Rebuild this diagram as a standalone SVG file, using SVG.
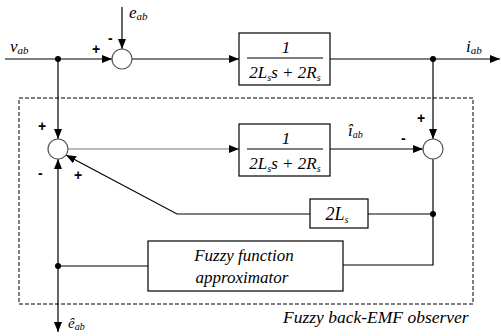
<svg xmlns="http://www.w3.org/2000/svg" width="501" height="336" viewBox="0 0 501 336">
<defs>
<marker id="ah" viewBox="0 0 10 10" refX="10" refY="5" markerWidth="10" markerHeight="10" markerUnits="userSpaceOnUse" orient="auto">
<path d="M0,1 L10,5 L0,9 Z" fill="#000"/>
</marker>
</defs>
<style>
.l{stroke:#000;stroke-width:1.2;fill:none}
.b{stroke:#000;stroke-width:1.2;fill:#fff}
.c{stroke:#555;stroke-width:1.2;fill:#fff}
.d{stroke:#000;stroke-width:1;fill:none;stroke-dasharray:4,2}
</style>
<rect class="d" x="19" y="98" width="454" height="206"/>
<g id="connectors">
<line class="l" x1="5" y1="59" x2="112" y2="59" marker-end="url(#ah)"/>
<line class="l" x1="122" y1="7" x2="122" y2="49" marker-end="url(#ah)"/>
<line class="l" x1="132" y1="59" x2="239" y2="59" marker-end="url(#ah)"/>
<line class="l" x1="330" y1="59" x2="500" y2="59" marker-end="url(#ah)"/>
<line class="l" x1="58" y1="59" x2="58" y2="139" marker-end="url(#ah)"/>
<line class="l" x1="433" y1="59" x2="433" y2="139" marker-end="url(#ah)"/>
<line class="l" x1="68" y1="149" x2="239" y2="149" style="stroke:#777" marker-end="url(#ah)"/>
<line class="l" x1="330" y1="149" x2="423" y2="149" marker-end="url(#ah)"/>
<polyline class="l" points="433,159 433,265 343,265"/>
<line class="l" x1="433" y1="214" x2="368" y2="214"/>
<polyline class="l" points="310,214 177,214 66,155" marker-end="url(#ah)"/>
<line class="l" x1="148" y1="266" x2="58" y2="266"/>
<line class="l" x1="58" y1="266" x2="58" y2="159" marker-end="url(#ah)"/>
<line class="l" x1="58" y1="266" x2="58" y2="332" marker-end="url(#ah)"/>
<circle cx="58" cy="59" r="3" fill="#000"/>
<circle cx="433" cy="59" r="3" fill="#000"/>
<circle cx="433" cy="214" r="3" fill="#000"/>
<circle cx="58" cy="266" r="3" fill="#000"/>
</g>
<g id="sum1" font-family="Liberation Sans, sans-serif" font-size="14" font-weight="bold"><circle class="c" cx="122" cy="59" r="10"/>
<text x="92" y="54">+</text><text x="108" y="43">-</text></g>
<g id="sum2" font-family="Liberation Sans, sans-serif" font-size="14" font-weight="bold"><circle class="c" cx="58" cy="149" r="10"/>
<text x="38" y="131">+</text><text x="38" y="178">-</text><text x="74" y="180">+</text></g>
<g id="sum3" font-family="Liberation Sans, sans-serif" font-size="14" font-weight="bold"><circle class="c" cx="433" cy="149" r="10"/>
<text x="417" y="123">+</text><text x="401" y="143">-</text></g>
<g id="block1" font-family="Liberation Serif, serif" font-style="italic"><rect class="b" x="239" y="33" width="91" height="52"/>
<text x="286" y="53" font-size="17" text-anchor="middle">1</text>
<line class="l" x1="247" y1="58" x2="323" y2="58"/>
<text x="285" y="78" font-size="17" text-anchor="middle">2L<tspan font-size="10" dy="3">s</tspan><tspan dy="-3">s + 2R</tspan><tspan font-size="10" dy="3">s</tspan></text></g>
<g id="block2" font-family="Liberation Serif, serif" font-style="italic"><rect class="b" x="239" y="124" width="91" height="52"/>
<text x="286" y="144" font-size="17" text-anchor="middle">1</text>
<line class="l" x1="247" y1="149" x2="323" y2="149"/>
<text x="285" y="169" font-size="17" text-anchor="middle">2L<tspan font-size="10" dy="3">s</tspan><tspan dy="-3">s + 2R</tspan><tspan font-size="10" dy="3">s</tspan></text></g>
<g id="gain" font-family="Liberation Serif, serif" font-style="italic"><rect class="b" x="310" y="199" width="58" height="29"/>
<text x="337" y="220" font-size="18" text-anchor="middle">2L<tspan font-size="10" dy="3">s</tspan></text></g>
<g id="fuzzy" font-family="Liberation Serif, serif" font-style="italic"><rect class="b" x="148" y="241" width="195" height="50"/>
<text x="244" y="261" font-size="17" text-anchor="middle">Fuzzy function</text>
<text x="242" y="283" font-size="17" text-anchor="middle">approximator</text></g>
<g id="labels" font-family="Liberation Serif, serif" font-style="italic">
<text x="10" y="52" font-size="17">v<tspan font-size="11" dy="2">ab</tspan></text>
<text x="129" y="18" font-size="17">e<tspan font-size="11" dy="2">ab</tspan></text>
<text x="466" y="52" font-size="17">i<tspan font-size="11" dy="2">ab</tspan></text>
<text x="348" y="136" font-size="17">î<tspan font-size="10" dy="2">ab</tspan></text>
<text x="68" y="328" font-size="15">ê<tspan font-size="10" dy="2">ab</tspan></text>
<text x="283" y="323" font-size="17.5">Fuzzy back-EMF observer</text>
</g>
</svg>
